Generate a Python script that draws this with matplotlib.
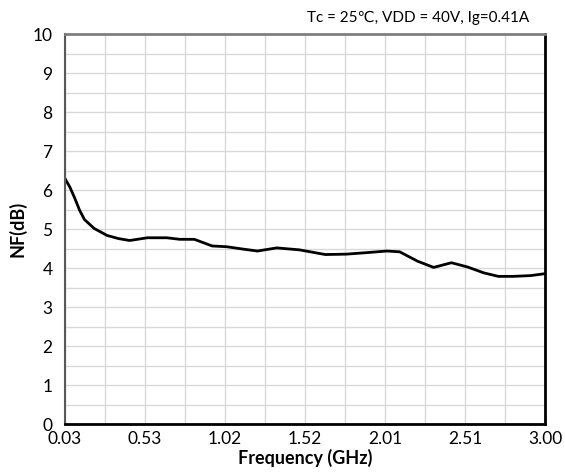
import matplotlib
matplotlib.use("Agg")
import matplotlib.pyplot as plt
from matplotlib.ticker import MultipleLocator, FixedLocator

plt.rcParams['font.family'] = ['Lato', 'DejaVu Sans']

freq = [0.03, 0.06, 0.09, 0.12, 0.15, 0.21, 0.29, 0.36, 0.43, 0.54, 0.66, 0.74,
        0.83, 0.94, 1.03, 1.13, 1.22, 1.34, 1.48, 1.64, 1.77, 1.90, 2.02, 2.10,
        2.21, 2.31, 2.42, 2.52, 2.62, 2.71, 2.80, 2.91, 3.00]
nf = [6.30, 6.08, 5.80, 5.49, 5.25, 5.02, 4.84, 4.76, 4.71, 4.78, 4.78, 4.74,
      4.74, 4.57, 4.55, 4.49, 4.44, 4.52, 4.47, 4.35, 4.36, 4.40, 4.44, 4.42,
      4.18, 4.02, 4.14, 4.03, 3.88, 3.79, 3.79, 3.81, 3.86]

xtick_vals = [0.03, 0.525, 1.02, 1.515, 2.01, 2.505, 3.00]
xtick_labels = ["0.03", "0.53", "1.02", "1.52", "2.01", "2.51", "3.00"]
ytick_vals = list(range(0, 11))

fig = plt.figure(figsize=(5.65, 4.75), dpi=100)
ax = fig.add_axes([0.115, 0.107, 0.85, 0.821])

ax.plot(freq, nf, color='black', lw=2, solid_joinstyle='round')

ax.set_xlim(0.03, 3.00)
ax.set_ylim(0, 10)
ax.xaxis.set_major_locator(FixedLocator(xtick_vals))
ax.set_xticklabels(xtick_labels)
minor_x = [(a + b) / 2 for a, b in zip(xtick_vals[:-1], xtick_vals[1:])]
ax.xaxis.set_minor_locator(FixedLocator(minor_x))
ax.set_yticks(ytick_vals)
ax.yaxis.set_minor_locator(MultipleLocator(0.5))

ax.grid(True, which='both', color='#d9d9d9', lw=1)
ax.set_axisbelow(True)
ax.tick_params(which='both', length=0, labelsize=12.5, colors='black')
ax.tick_params(axis='x', pad=5)
ax.tick_params(axis='y', pad=9)

ax.spines['left'].set_color('#595959')
ax.spines['left'].set_linewidth(1.5)
ax.spines['top'].set_color('#7f7f7f')
ax.spines['top'].set_linewidth(2)
ax.spines['right'].set_color('black')
ax.spines['right'].set_linewidth(2)
ax.spines['bottom'].set_color('black')
ax.spines['bottom'].set_linewidth(2)

ax.set_xlabel('Frequency (GHz)', fontsize=13, fontweight='bold', labelpad=1)
ax.set_ylabel('NF(dB)', fontsize=13, fontweight='bold', labelpad=4)

fig.text(0.937, 0.963, 'Tc = 25\u2103, VDD = 40V, Ig=0.41A', ha='right', va='center', fontsize=11)

fig.savefig('out.png', dpi=100, facecolor='white')
